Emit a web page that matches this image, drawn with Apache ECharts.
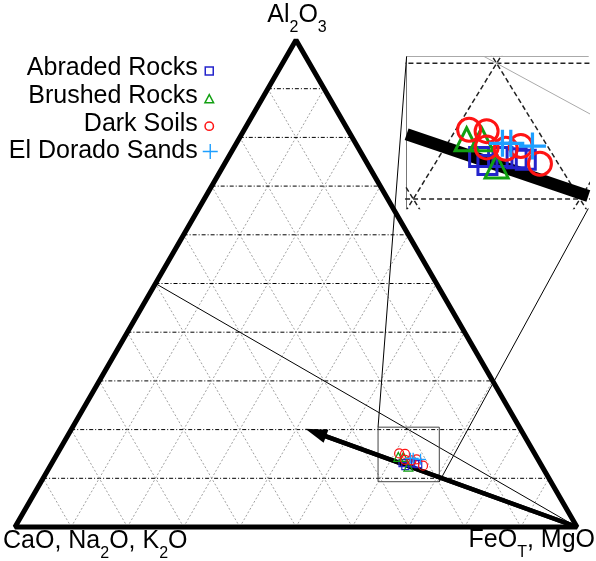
<!DOCTYPE html>
<html><head><meta charset="utf-8">
<script src="https://cdn.jsdelivr.net/npm/echarts@6/dist/echarts.min.js"></script>
<style>html,body{margin:0;padding:0;background:#fff}#c{width:596px;height:561px}</style>
</head><body><div id="c"></div><script>
// Compositions, wt%: [Al2O3, CaO+Na2O+K2O, FeOT+MgO]
const seriesNames = ['Abraded Rocks', 'Brushed Rocks', 'Dark Soils', 'El Dorado Sands'];
const abradedRocks = [[13.1,24.5,62.4],[12.5,24.3,63.2],[13.1,23.1,63.8],[13.0,22.3,64.7],[12.9,21.8,65.3]];
const brushedRocks = [[14.4,24.6,61.0],[14.4,23.7,61.9],[12.4,23.8,63.8]];
const darkSoils = [[15.1,24.1,60.8],[15.0,23.1,61.9],[13.8,23.7,62.5],[13.7,22.6,63.7],[13.9,21.6,64.5],[12.6,21.1,66.3]];
const elDoradoSands = [[14.1,22.6,63.3],[14.1,22.1,63.8],[13.9,20.9,65.2]];
const gridTicks = [10,20,30,40,50,60,70,80,90];
const joinLine = [[50,50,0],[0,0,100]];
const trendArrow = [[0,0,100],[19.4,36.8,43.8]];
const vertices = [[100,0,0],[0,100,0],[0,0,100]];
// zoom window in cartesian units (x = F + A/2, y = A)
const zoomX = [0.646, 0.755];
const zoomA = [0.093, 0.205];
const labelTop = '{n|Al}{s|2}{n|O}{s|3}';
const labelLeft = '{n|CaO, Na}{s|2}{n|O, K}{s|2}{n|O}';
const labelRight = '{n|FeO}{s|T}{n|, MgO}';

const toXY = ([a, c, f]) => { const s = a + c + f; return [(f + a / 2) / s, a / s]; };

const colors = {abr: '#2424cc', bru: '#12a012', dark: '#ff1414', eld: '#1e9fff'};
const plusPath = 'path://M4.4,0H5.6V4.4H10V5.6H5.6V10H4.4V5.6H0V4.4H4.4Z';
// legend icons: small outlines sitting on the text baseline inside a 15x15 box
const legendIcons = [
  'path://M0,0M15,15M2.5,6H10.5V14H2.5Z',
  'path://M0,0M15,15M6.5,6L10.8,14H2.2Z',
  'path://M0,0M15,15M10.7,9.8A4.2,4.2,0,1,1,2.3,9.8A4.2,4.2,0,1,1,10.7,9.8Z',
  'path://M6.8,0H8.2V6.8H15V8.2H8.2V15H6.8V8.2H0V6.8H6.8Z'
];

const series = [];
function segXY(xy, g, style, z, clip) {
  series.push({type: 'line', xAxisIndex: g, yAxisIndex: g, data: xy, symbol: 'none',
    silent: true, clip: clip === undefined ? g === 1 : clip, lineStyle: style, z: z || 2, animation: false});
}
function seg(pts, g, style, z) { segXY(pts.map(toXY), g, style, z); }
function gridLines(g, hStyle, dStyle) {
  gridTicks.forEach(t => {
    seg([[t, 100 - t, 0], [t, 0, 100 - t]], g, hStyle);
    seg([[0, 100 - t, t], [100 - t, 0, t]], g, dStyle);
    seg([[0, t, 100 - t], [100 - t, t, 0]], g, dStyle);
  });
}
// clip a segment (cartesian units) to the zoom window (Liang-Barsky)
function clipToZoom(p0, p1) {
  let t0 = 0, t1 = 1;
  const dx = p1[0] - p0[0], dy = p1[1] - p0[1];
  const pq = [[-dx, p0[0] - zoomX[0]], [dx, zoomX[1] - p0[0]], [-dy, p0[1] - zoomA[0]], [dy, zoomA[1] - p0[1]]];
  for (const [p, q] of pq) {
    if (p === 0) { if (q < 0) return null; continue; }
    const r = q / p;
    if (p < 0) t0 = Math.max(t0, r); else t1 = Math.min(t1, r);
  }
  if (t0 > t1) return null;
  return [[p0[0] + t0 * dx, p0[1] + t0 * dy], [p0[0] + t1 * dx, p0[1] + t1 * dy]];
}
// main grid
gridLines(0, {color: '#000', width: 1, type: [4, 2, 1, 2]}, {color: '#a0a0a0', width: 1, type: [2, 2]});
seg(joinLine, 0, {color: '#000', width: 1});
// zoom box
segXY([[zoomX[0], zoomA[0]], [zoomX[0], zoomA[1]], [zoomX[1], zoomA[1]], [zoomX[1], zoomA[0]], [zoomX[0], zoomA[0]]],
  0, {color: '#444', width: 1}, 3, false);
// arrow
series.push({type: 'line', xAxisIndex: 0, yAxisIndex: 0, symbol: 'none', silent: true, clip: false, animation: false,
  data: trendArrow.map(toXY), lineStyle: {color: '#000', width: 4.5}, z: 4,
  markLine: {silent: true, animation: false, symbol: ['none', 'triangle'], symbolSize: [0, 16],
    label: {show: false}, lineStyle: {color: '#000', width: 4.5, type: 'solid'},
    data: [[{coord: toXY(trendArrow[0])}, {coord: toXY(trendArrow[1]), symbolSize: [14, 22]}]]}});
seg([vertices[0], vertices[1], vertices[2], vertices[0], vertices[1]], 0, {color: '#000', width: 5, join: 'bevel'}, 5);
// inset grid
gridLines(1, {color: '#222', width: 1.5, type: [5, 3]}, {color: '#222', width: 1.5, type: [5, 3]});
seg(joinLine, 1, {color: '#aaa', width: 1});
const thick = clipToZoom(toXY(trendArrow[0]), toXY(trendArrow[1]));
if (thick) segXY(thick, 1, {color: '#000', width: 12}, 4, false);

function scat(name, data, symbol, color, hollow, sizes) {
  [0, 1].forEach(g => {
    series.push({type: 'scatter', name, xAxisIndex: g, yAxisIndex: g, data: data.map(toXY), symbol,
      symbolSize: sizes[g], animation: false, silent: true, z: 10, clip: g === 1,
      itemStyle: hollow ? {color: 'rgba(0,0,0,0)', borderColor: color, borderWidth: g ? 3 : 1.2, opacity: 1}
                        : {color, borderWidth: 0, opacity: 1}});
  });
}
scat(seriesNames[0], abradedRocks, 'rect', colors.abr, true, [7, 19]);
scat(seriesNames[1], brushedRocks, 'triangle', colors.bru, true, [9, 23]);
scat(seriesNames[2], darkSoils, 'circle', colors.dark, true, [9, 23]);
scat(seriesNames[3], elDoradoSands, plusPath, colors.eld, false, [11, 27]);

const hide = {show: false};
const option = {
  animation: false,
  grid: [
    {left: 15, right: 19, top: 40, bottom: 34},
    {left: 406.6, right: 596 - 588.3, top: 56.5, bottom: 561 - 208.5}
  ],
  xAxis: [
    {gridIndex: 0, type: 'value', min: 0, max: 1, show: false},
    {gridIndex: 1, type: 'value', min: zoomX[0], max: zoomX[1], position: 'top',
      axisLine: {show: true, onZero: false, lineStyle: {color: '#aaa', width: 1}}, axisTick: hide, axisLabel: hide, splitLine: hide}
  ],
  yAxis: [
    {gridIndex: 0, type: 'value', min: 0, max: 1, show: false},
    {gridIndex: 1, type: 'value', min: zoomA[0], max: zoomA[1], position: 'left',
      axisLine: {show: true, onZero: false, lineStyle: {color: '#777', width: 1}}, axisTick: hide, axisLabel: hide, splitLine: hide}
  ],
  legend: {orient: 'vertical', right: 377.5, top: 56, padding: 0, align: 'right', itemWidth: 15, itemHeight: 15, itemGap: 2.67,
    selectedMode: false, textStyle: {fontSize: 25, fontFamily: 'Liberation Sans, Arial', color: '#000'},
    data: seriesNames.map((name, i) => ({name, icon: legendIcons[i], itemStyle: {borderWidth: i === 3 ? 0 : 1.5}}))},
  series
};
const chart = echarts.init(document.getElementById('c'), null, {renderer: 'canvas'});
chart.setOption(option);

const rich = {
  n: {fontSize: 25, fontFamily: 'Liberation Sans, Arial', fill: '#000', verticalAlign: 'top'},
  s: {fontSize: 16, fontFamily: 'Liberation Sans, Arial', fill: '#000', verticalAlign: 'top', padding: [17, 0, 0, 0]}
};
const px = (g, pt) => chart.convertToPixel({gridIndex: g}, pt);
const b1 = px(0, [zoomX[0], zoomA[1]]), i1 = px(1, [zoomX[0], zoomA[1]]);
const b2 = px(0, [zoomX[1], zoomA[0]]), i2 = px(1, [zoomX[1], zoomA[0]]);
const conn = (a, b) => ({type: 'line', silent: true, z: 20, shape: {x1: a[0], y1: a[1], x2: b[0], y2: b[1]}, style: {stroke: '#000', lineWidth: 1}});
chart.setOption({graphic: [
  {type: 'text', x: 297, y: 3, style: {text: labelTop, rich, align: 'center', verticalAlign: 'top'}},
  {type: 'text', x: 3, y: 529, style: {text: labelLeft, rich, align: 'left', verticalAlign: 'top'}},
  {type: 'text', x: 595, y: 528, style: {text: labelRight, rich, align: 'right', verticalAlign: 'top'}},
  conn(b1, i1), conn(b2, i2)
]});
</script></body></html>
